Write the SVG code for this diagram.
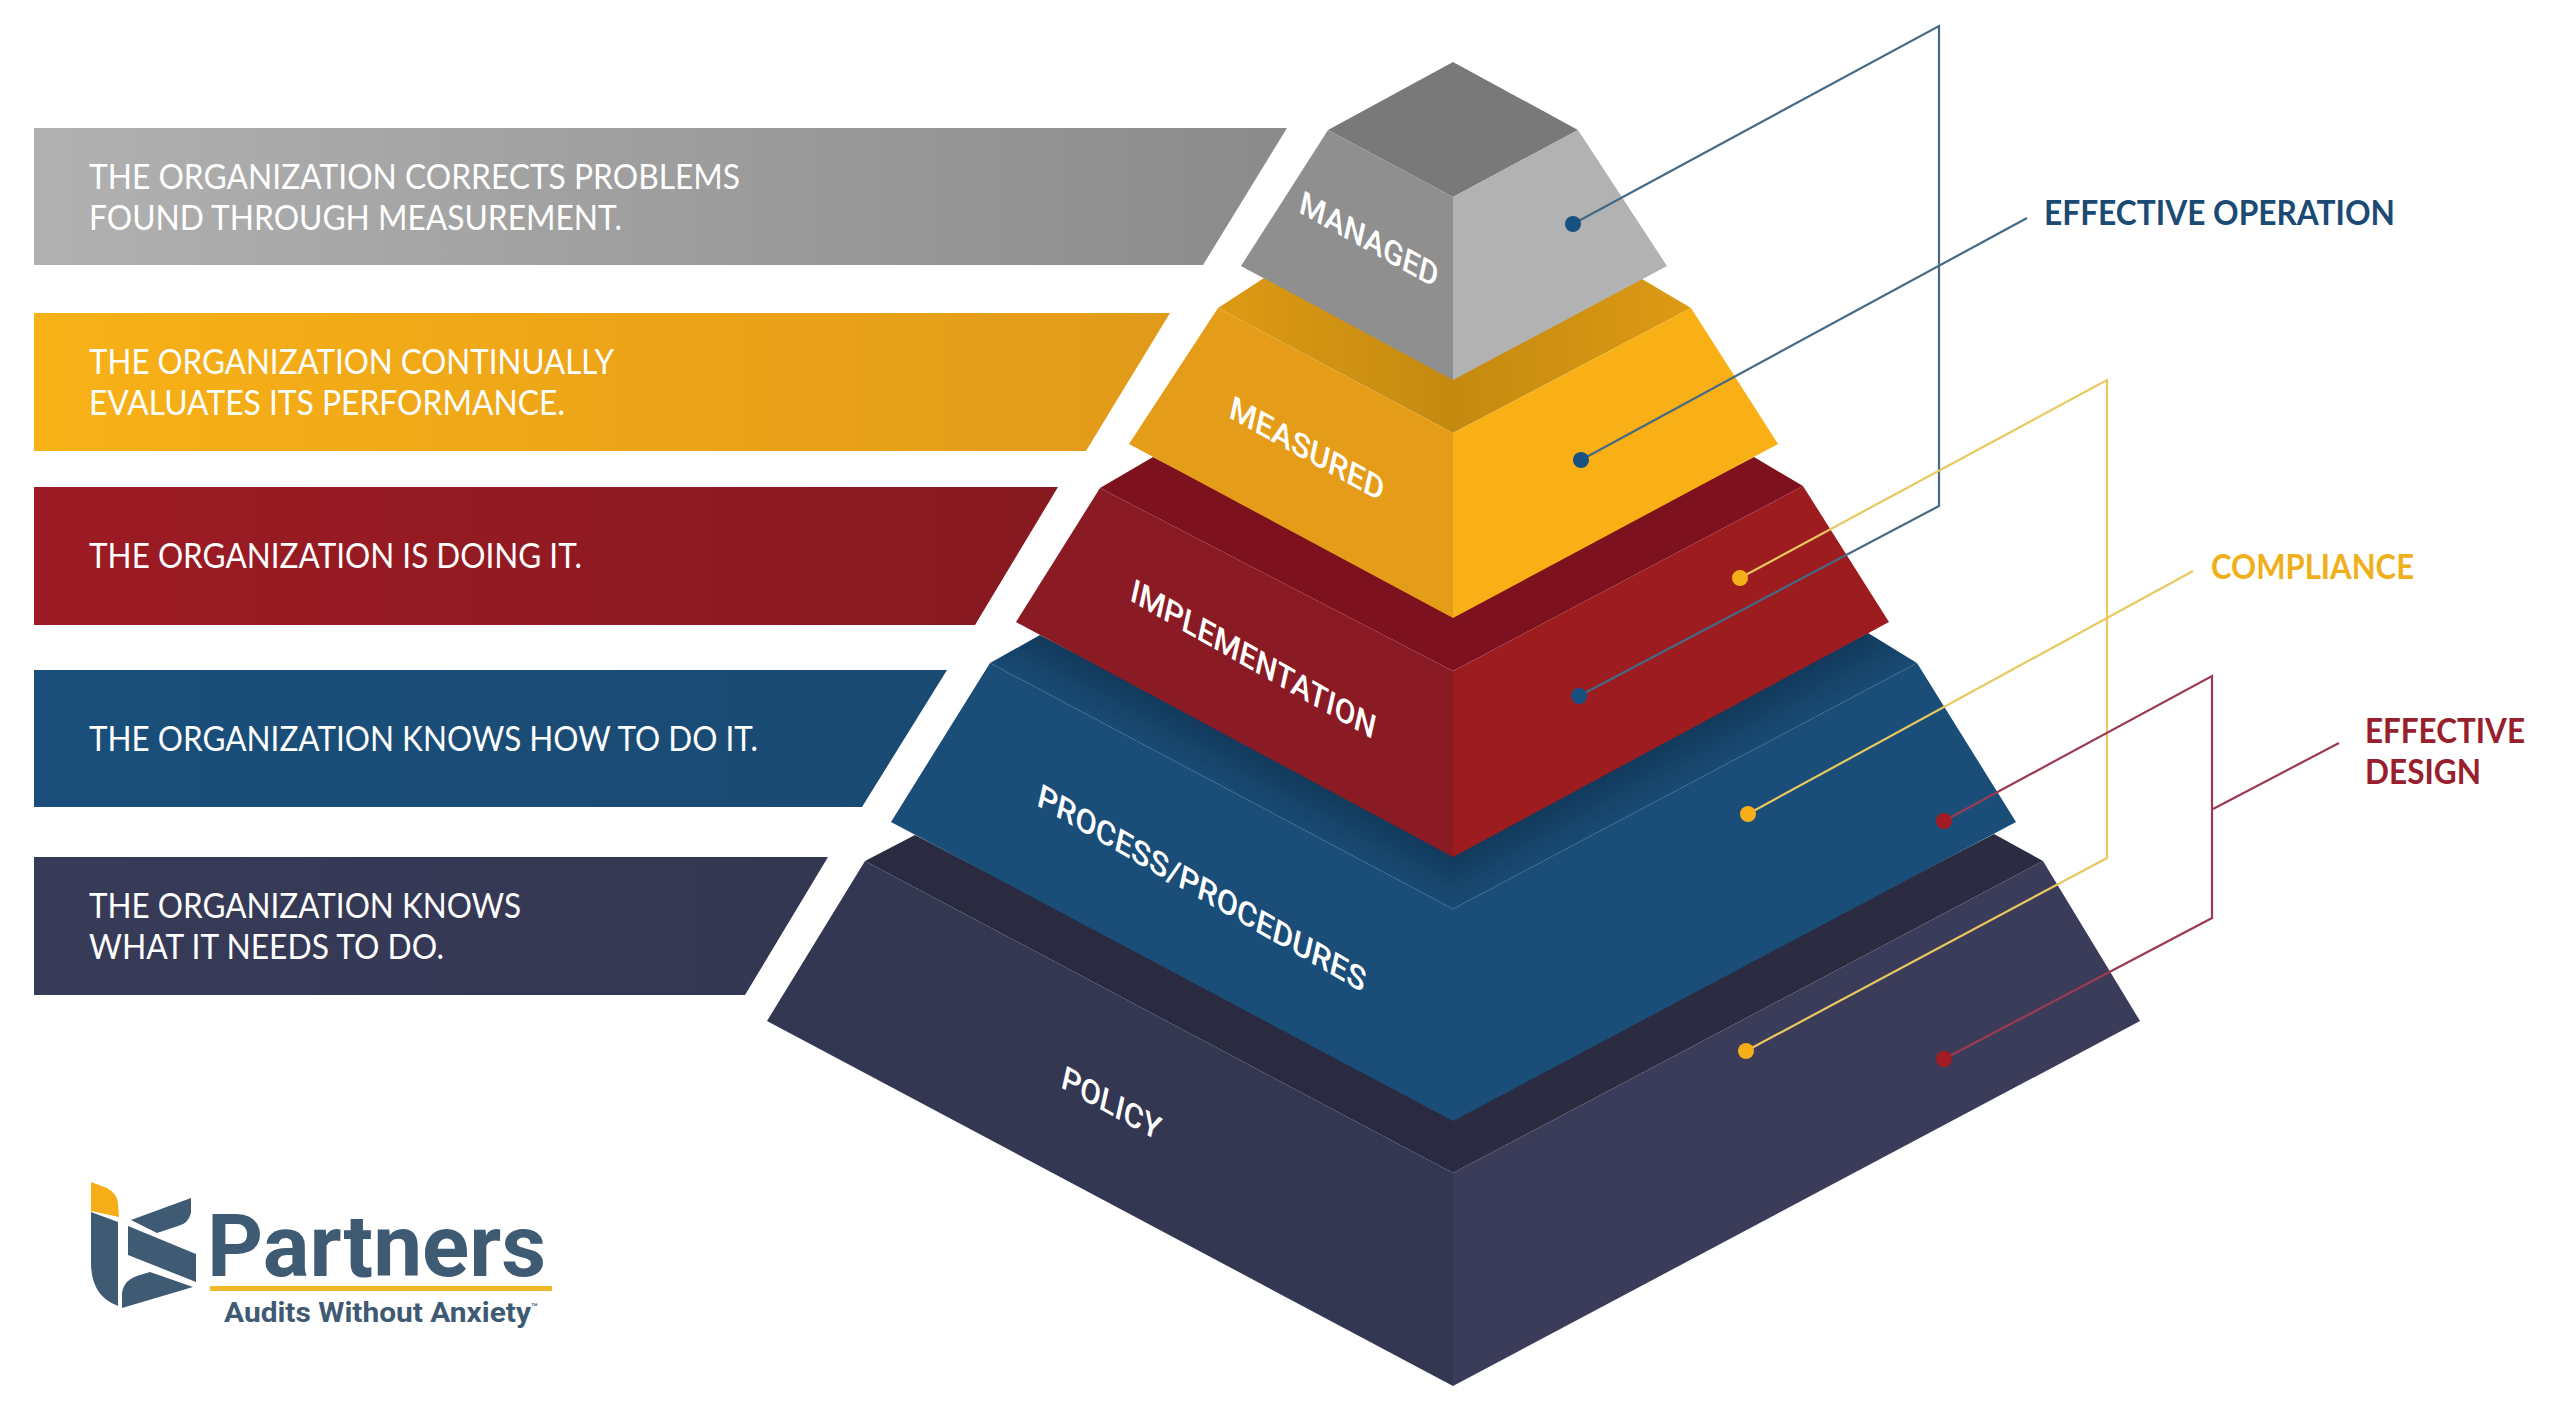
<svg xmlns="http://www.w3.org/2000/svg" width="2560" height="1413" viewBox="0 0 2560 1413">
<style>
.rt{font-family:"Lato","Liberation Sans",sans-serif;font-size:34px;fill:#fff}
.pl{font-family:"Roboto","Liberation Sans",sans-serif;font-size:32px;font-weight:500;fill:#fff}
.lb{font-family:"Lato","Liberation Sans",sans-serif;font-size:35px;font-weight:700}
.c{fill:none;stroke-width:2.2;stroke-linejoin:miter}
.cb{stroke:#456a85}.cy{stroke:#e9c85f}.cr{stroke:#9b3a50}
.db{fill:#18507f}.dy{fill:#f6ae18}.dr{fill:#a31b25}
.lg{fill:#3f5a73}
</style>
<defs>
<linearGradient id="g0" x1="0" x2="1" y1="0" y2="0"><stop offset="0" stop-color="#b1b1b1"/><stop offset="1" stop-color="#8b8b8b"/></linearGradient>
<linearGradient id="g1" x1="0" x2="1" y1="0" y2="0"><stop offset="0" stop-color="#f8b116"/><stop offset="1" stop-color="#e29a1a"/></linearGradient>
<linearGradient id="g2" x1="0" x2="1" y1="0" y2="0"><stop offset="0" stop-color="#9d1b24"/><stop offset="1" stop-color="#871920"/></linearGradient>
<linearGradient id="g3" x1="0" x2="1" y1="0" y2="0"><stop offset="0" stop-color="#1a4f7b"/><stop offset="1" stop-color="#1a4a72"/></linearGradient>
<linearGradient id="g4" x1="0" x2="1" y1="0" y2="0"><stop offset="0" stop-color="#383b58"/><stop offset="1" stop-color="#343752"/></linearGradient>
<linearGradient id="ys" x1="0" x2="1" y1="0" y2="0"><stop offset="0" stop-color="#dd9a14"/><stop offset="1" stop-color="#c48a10"/></linearGradient>
<linearGradient id="ysr" x1="1" x2="0" y1="0" y2="0"><stop offset="0" stop-color="#dd9a14"/><stop offset="1" stop-color="#c48a10"/></linearGradient>
<linearGradient id="bsl" gradientUnits="userSpaceOnUse" x1="1240" y1="742" x2="1218" y2="783"><stop offset="0" stop-color="#123a5c"/><stop offset="1" stop-color="#194a73"/></linearGradient>
<linearGradient id="bsr" gradientUnits="userSpaceOnUse" x1="1666" y1="742" x2="1688" y2="783"><stop offset="0" stop-color="#123a5c"/><stop offset="1" stop-color="#194a73"/></linearGradient>
</defs>
<rect width="2560" height="1413" fill="#fff"/>

<g id="ribbon-managed"><polygon points="34,128 1287,128 1203,265 34,265" fill="url(#g0)"/>
<text class="rt" x="89" y="189" textLength="651" lengthAdjust="spacingAndGlyphs">THE ORGANIZATION CORRECTS PROBLEMS</text>
<text class="rt" x="89" y="230" textLength="533" lengthAdjust="spacingAndGlyphs">FOUND THROUGH MEASUREMENT.</text></g>
<g id="ribbon-measured"><polygon points="34,313 1170,313 1086,451 34,451" fill="url(#g1)"/>
<text class="rt" x="89" y="374" textLength="525" lengthAdjust="spacingAndGlyphs">THE ORGANIZATION CONTINUALLY</text>
<text class="rt" x="89" y="415" textLength="476" lengthAdjust="spacingAndGlyphs">EVALUATES ITS PERFORMANCE.</text></g>
<g id="ribbon-implementation"><polygon points="34,487 1058,487 975,625 34,625" fill="url(#g2)"/>
<text class="rt" x="89" y="568" textLength="493" lengthAdjust="spacingAndGlyphs">THE ORGANIZATION IS DOING IT.</text></g>
<g id="ribbon-process"><polygon points="34,670 947,670 862,807 34,807" fill="url(#g3)"/>
<text class="rt" x="89" y="751" textLength="669" lengthAdjust="spacingAndGlyphs">THE ORGANIZATION KNOWS HOW TO DO IT.</text></g>
<g id="ribbon-policy"><polygon points="34,857 828,857 745,995 34,995" fill="url(#g4)"/>
<text class="rt" x="89" y="918" textLength="432" lengthAdjust="spacingAndGlyphs">THE ORGANIZATION KNOWS</text>
<text class="rt" x="89" y="959" textLength="355" lengthAdjust="spacingAndGlyphs">WHAT IT NEEDS TO DO.</text></g>

<g id="tier-policy">
<polygon points="865,861 915,835 1453,1115 1453,1173" fill="#2a2b41"/>
<polygon points="2043,861 1994,834 1453,1115 1453,1173" fill="#2b2c42"/>
<polygon points="865,861 767,1021 1453,1386 1453,1173" fill="#343752"/>
<polygon points="2043,861 2140,1021 1453,1386 1453,1173" fill="#3a3c59"/>
<text class="pl" transform="matrix(.875 .485 -.22 .975 1060 1087)" textLength="112" lengthAdjust="spacingAndGlyphs">POLICY</text>
</g>
<g id="tier-process">
<polygon points="1040,635 990,663 1453,909 1453,850" fill="url(#bsl)"/>
<polygon points="1868,633 1917,663 1453,909 1453,850" fill="url(#bsr)"/>
<polygon points="990,663 891,822 1453,1121 2016,822 1917,663 1453,909" fill="#1a4e78"/>
<text class="pl" transform="matrix(.867 .498 -.22 .975 1036 805)" textLength="377" lengthAdjust="spacingAndGlyphs">PROCESS/PROCEDURES</text>
</g>
<g id="tier-implementation">
<polygon points="1100,488 1153,457 1453,612 1453,671" fill="#7d111e"/>
<polygon points="1803,486 1754,457 1453,612 1453,671" fill="#7d111e"/>
<polygon points="1100,488 1016,622 1453,857 1453,671" fill="#8a1b24"/>
<polygon points="1803,486 1889,622 1453,857 1453,671" fill="#9c1c20"/>
<text class="pl" transform="matrix(.868 .496 -.22 .975 1129 600)" textLength="281" lengthAdjust="spacingAndGlyphs">IMPLEMENTATION</text>
</g>
<g id="tier-measured">
<polygon points="1218,308 1264,278 1453,374 1453,433" fill="url(#ys)"/>
<polygon points="1691,308 1642,279 1453,374 1453,433" fill="url(#ysr)"/>
<polygon points="1218,308 1129,444 1453,618 1453,433" fill="#e59c19"/>
<polygon points="1691,308 1778,444 1453,618 1453,433" fill="#f9b016"/>
<text class="pl" transform="matrix(.875 .485 -.22 .975 1228 417)" textLength="175" lengthAdjust="spacingAndGlyphs">MEASURED</text>
</g>
<g id="tier-managed">
<polygon points="1453,62 1328,130 1453,197 1578,130" fill="#797979"/>
<polygon points="1328,130 1241,266 1453,380 1453,197" fill="#8f8f8f"/>
<polygon points="1578,130 1667,266 1453,380 1453,197" fill="#b2b2b2"/>
<text class="pl" transform="matrix(.875 .485 -.22 .975 1298 212)" textLength="157" lengthAdjust="spacingAndGlyphs">MANAGED</text>
</g>

<g id="connectors">
<polyline class="c cb" points="1573,224 1939,26 1939,506 1579,696"/>
<line class="c cb" x1="1581" y1="460" x2="2027" y2="218"/>
<polyline class="c cy" points="1740,578 2107,380 2107,858 1746,1051"/>
<line class="c cy" x1="1748" y1="814" x2="2193" y2="571"/>
<polyline class="c cr" points="1944,821 2212,676 2212,918 1944,1059"/>
<line class="c cr" x1="2213" y1="809" x2="2339" y2="743"/>
<circle class="db" cx="1573" cy="224" r="8"/>
<circle class="db" cx="1581" cy="460" r="8"/>
<circle class="db" cx="1579" cy="696" r="8"/>
<circle class="dy" cx="1740" cy="578" r="8"/>
<circle class="dy" cx="1748" cy="814" r="8"/>
<circle class="dy" cx="1746" cy="1051" r="8"/>
<circle class="dr" cx="1944" cy="821" r="8"/>
<circle class="dr" cx="1944" cy="1059" r="8"/>
</g>

<g id="label-effective-operation"><text class="lb" x="2044" y="225" fill="#1b4a72" textLength="351" lengthAdjust="spacingAndGlyphs">EFFECTIVE OPERATION</text></g>
<g id="label-compliance"><text class="lb" x="2211" y="579" fill="#efb01c" textLength="203" lengthAdjust="spacingAndGlyphs">COMPLIANCE</text></g>
<g id="label-effective-design"><text class="lb" x="2365" y="743" fill="#97202c" textLength="160" lengthAdjust="spacingAndGlyphs">EFFECTIVE</text>
<text class="lb" x="2365" y="784" fill="#97202c" textLength="116" lengthAdjust="spacingAndGlyphs">DESIGN</text></g>

<g id="logo">
<path d="M91,1182 L107,1188 Q118,1194 118,1204 L119,1217 L91,1211 Z" fill="#f6ae18"/>
<path class="lg" d="M91,1212 L118,1222 L118,1306 Q91,1296 91,1263 Z"/>
<path class="lg" d="M131,1220 L191,1198 L191,1213 Q188,1224 178,1226 L157,1233 Z"/>
<path class="lg" d="M128,1226 L196,1254 L196,1282 L128,1255 Z"/>
<path class="lg" d="M122,1308 L122,1293 Q124,1279 140,1275 L150,1272 L193,1287 Z"/>
<text x="207" y="1276" font-family="Roboto,'Liberation Sans',sans-serif" font-size="88" font-weight="700" fill="#3f5a73" textLength="339" lengthAdjust="spacingAndGlyphs">Partners</text>
<rect x="210" y="1286" width="342" height="5" fill="#efb829"/>
<text x="224" y="1322" font-family="Roboto,'Liberation Sans',sans-serif" font-size="28" font-weight="700" fill="#3f5a73" textLength="307" lengthAdjust="spacingAndGlyphs">Audits Without Anxiety</text>
<text x="531" y="1311" font-family="Roboto,'Liberation Sans',sans-serif" font-size="11" font-weight="500" fill="#3f5a73">™</text>
</g>
</svg>
